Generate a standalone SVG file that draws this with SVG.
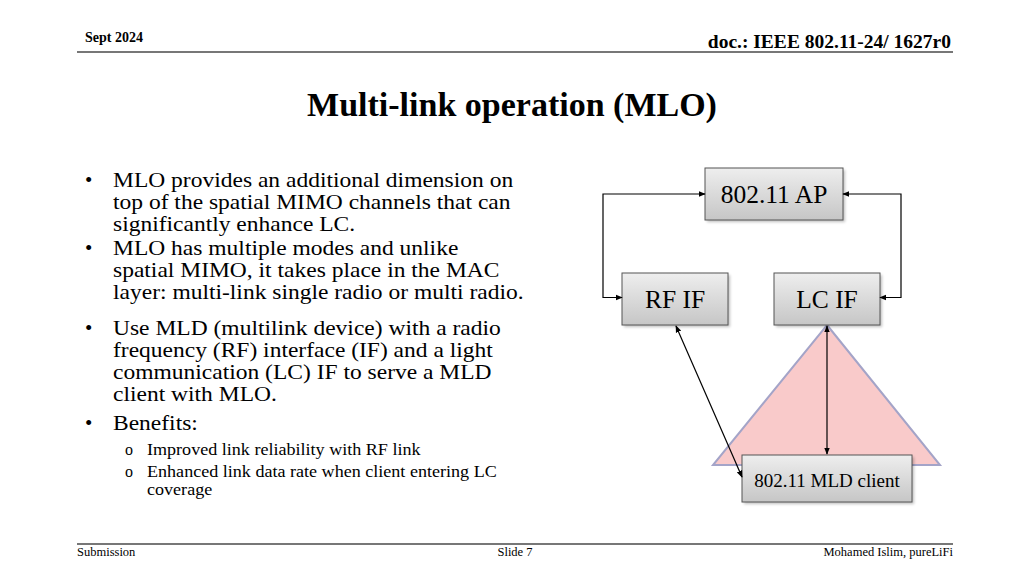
<svg xmlns="http://www.w3.org/2000/svg" width="1024" height="576" viewBox="0 0 1024 576">
<style>
.hdr{font-family:"Liberation Serif",serif;font-weight:bold;fill:#000}
.ftr{font-family:"Liberation Serif",serif;font-size:12.5px;fill:#000}
.body{font-family:"Liberation Serif",serif;font-size:21px;fill:#000}
.sub{font-family:"Liberation Serif",serif;font-size:16px;fill:#000}
.box{fill:url(#g);stroke:#555;stroke-width:1}
.shadow{fill:#000;opacity:0.25;filter:url(#blur)}
.lbl{font-family:"Liberation Serif",serif;fill:#000;text-anchor:middle}
.con{fill:none;stroke:#000;stroke-width:1.2;marker-start:url(#a);marker-end:url(#a)}
</style>
<defs>
<linearGradient id="g" x1="0" y1="0" x2="0" y2="1">
<stop offset="0" stop-color="#eeeeee"/>
<stop offset="1" stop-color="#c6c6c6"/>
</linearGradient>
<filter id="blur" x="-10%" y="-10%" width="120%" height="130%"><feGaussianBlur stdDeviation="1.5"/></filter>
<marker id="a" viewBox="0 0 10 10" refX="9" refY="5" markerWidth="7" markerHeight="7" orient="auto-start-reverse" markerUnits="userSpaceOnUse">
<path d="M0,1 L10,5 L0,9 z" fill="#000"/>
</marker>
</defs>
<rect width="1024" height="576" fill="#fff"/>
<!-- header -->
<text class="hdr" x="85" y="42" font-size="14">Sept 2024</text>
<text class="hdr" x="951" y="48" font-size="19.5" text-anchor="end">doc.: IEEE 802.11-24/ 1627r0</text>
<line x1="77" y1="52" x2="953" y2="52" stroke="#777" stroke-width="2"/>
<text class="hdr" x="512" y="116" font-size="34" text-anchor="middle">Multi-link operation (MLO)</text>
<!-- body text -->
<g id="bullets">
<text class="body" x="85" y="187">•</text>
<text class="body" x="85" y="255">•</text>
<text class="body" x="85" y="335">•</text>
<text class="body" x="85" y="430">•</text>
<text class="sub" x="125" y="455">o</text>
<text class="sub" x="125" y="477">o</text>
<g transform="matrix(1.12,0,0,1,-13.56,0)">
<text class="body" x="113" y="187">MLO provides an additional dimension on</text>
<text class="body" x="113" y="209.5">top of the spatial MIMO channels that can</text>
<text class="body" x="113" y="231.5">significantly enhance LC.</text>
<text class="body" x="113" y="255">MLO has multiple modes and unlike</text>
<text class="body" x="113" y="277">spatial MIMO, it takes place in the MAC</text>
<text class="body" x="113" y="299">layer: multi-link single radio or multi radio.</text>
<text class="body" x="113" y="335">Use MLD (multilink device) with a radio</text>
<text class="body" x="113" y="357">frequency (RF) interface (IF) and a light</text>
<text class="body" x="113" y="379.5">communication (LC) IF to serve a MLD</text>
<text class="body" x="113" y="401.5">client with MLO.</text>
<text class="body" x="113" y="430">Benefits:</text>
</g>
<g transform="matrix(1.13,0,0,1,-19.11,0)">
<text class="sub" x="147" y="455">Improved link reliability with RF link</text>
<text class="sub" x="147" y="477">Enhanced link data rate when client entering LC</text>
<text class="sub" x="147" y="495.5">coverage</text>
</g>
</g>
<!-- coverage triangle -->
<polygon id="lc-coverage" points="827,325 940,465 713,465" fill="#f9caca" stroke="#a4a4c8" stroke-width="2"/>
<!-- nodes -->
<g id="ap">
<rect class="shadow" x="707" y="170" width="138" height="52"/>
<rect class="box" x="705" y="168" width="138" height="52"/>
<text class="lbl" x="774" y="203" font-size="25.5">802.11 AP</text>
</g>
<g id="rfif">
<rect class="shadow" x="624" y="275" width="106" height="52"/>
<rect class="box" x="622" y="273" width="106" height="52"/>
<text class="lbl" x="675" y="308" font-size="25.5">RF IF</text>
</g>
<g id="lcif">
<rect class="shadow" x="776" y="275" width="106" height="52"/>
<rect class="box" x="774" y="273" width="106" height="52"/>
<text class="lbl" x="827" y="308" font-size="25.5">LC IF</text>
</g>
<g id="client">
<rect class="shadow" x="744" y="457" width="170" height="47"/>
<rect class="box" x="742" y="455" width="170" height="47"/>
<text class="lbl" x="827" y="487" font-size="19">802.11 MLD client</text>
</g>
<!-- connectors -->
<g id="connectors">
<path class="con" d="M705,194 H603 V297.5 H622"/>
<path class="con" d="M843,194 H901 V297.5 H880"/>
<path class="con" d="M827,326 V454"/>
<path class="con" d="M676,326 L742,477"/>
</g>
<!-- footer -->
<line x1="77" y1="544" x2="953" y2="544" stroke="#777" stroke-width="2"/>
<text class="ftr" x="77" y="556">Submission</text>
<text class="ftr" x="515" y="556" text-anchor="middle">Slide 7</text>
<text class="ftr" x="953" y="556" text-anchor="end">Mohamed Islim, pureLiFi</text>
</svg>
